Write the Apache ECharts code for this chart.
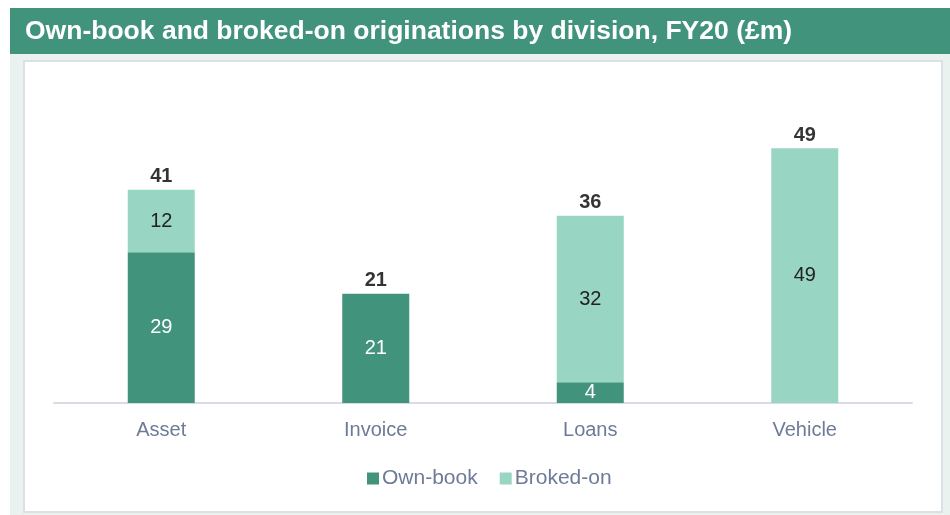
<!DOCTYPE html>
<html>
<head>
<meta charset="utf-8">
<script src="https://cdn.jsdelivr.net/npm/echarts@6/dist/echarts.min.js"></script>
<style>
html,body{margin:0;padding:0;background:#fff;}
#chart{width:950px;height:515px;}
</style>
</head>
<body>
<div id="chart"></div>
<script>
const categories = ['Asset', 'Invoice', 'Loans', 'Vehicle'];
const ownBook = [29, 21, 4, 0];
const brokedOn = [12, 0, 32, 49];
const totals = [41, 21, 36, 49];
const seriesNames = ['Own-book', 'Broked-on'];

const FONT = '"Liberation Sans", Arial, sans-serif';
const DARK = '#42937B';
const LIGHT = '#98D5C2';

const chart = echarts.init(document.getElementById('chart'), null, {renderer: 'canvas'});
const hideZero = p => (p.value ? String(p.value) : '');

chart.setOption({
  animation: false,
  textStyle: {fontFamily: FONT},
  graphic: [
    {type: 'rect', silent: true, z: -10, shape: {x: 10, y: 54, width: 940, height: 461}, style: {fill: '#EAF2EF'}},
    {type: 'rect', silent: true, z: -9, shape: {x: 24, y: 61, width: 918, height: 451}, style: {fill: '#FFFFFF', stroke: '#DCE0E6', lineWidth: 2}},
    {type: 'rect', silent: true, z: -10, shape: {x: 10, y: 8, width: 940, height: 46}, style: {fill: DARK}}
  ],
  title: {
    text: 'Own-book and broked-on originations by division, FY20 (£m)',
    left: 25, top: 18, padding: 0,
    textStyle: {color: '#FFFFFF', fontSize: 26.5, fontWeight: 'bold', fontFamily: FONT}
  },
  legend: {
    data: seriesNames,
    left: 362, top: 463,
    icon: 'rect', itemWidth: 12, itemHeight: 12, itemGap: 22,
    textStyle: {color: '#6E7B97', fontSize: 21, fontFamily: FONT, padding: [0, 0, 0, -2]}
  },
  grid: {left: 54, right: 38, top: 91, bottom: 112},
  xAxis: {
    type: 'category', data: categories,
    axisLine: {lineStyle: {color: '#D9DCE3', width: 2}},
    axisTick: {show: false},
    axisLabel: {color: '#6E7B97', fontSize: 20, margin: 17, fontFamily: FONT}
  },
  yAxis: {type: 'value', min: 0, max: 60, show: false, splitLine: {show: false}},
  series: [
    {
      name: seriesNames[0], type: 'bar', stack: 'total', barWidth: 67,
      data: ownBook, itemStyle: {color: DARK},
      label: {show: true, position: 'inside', color: '#FFFFFF', fontSize: 20, fontFamily: FONT, formatter: hideZero}
    },
    {
      name: seriesNames[1], type: 'bar', stack: 'total', barWidth: 67,
      data: brokedOn, itemStyle: {color: LIGHT},
      label: {show: true, position: 'inside', color: '#222222', fontSize: 20, fontFamily: FONT, formatter: hideZero}
    },
    {
      name: 'Total', type: 'scatter', data: totals, symbolSize: 0, silent: true,
      label: {show: true, position: 'top', distance: 3, color: '#000000', fontSize: 20, fontWeight: 'bold', fontFamily: FONT}
    }
  ]
});
</script>
</body>
</html>
